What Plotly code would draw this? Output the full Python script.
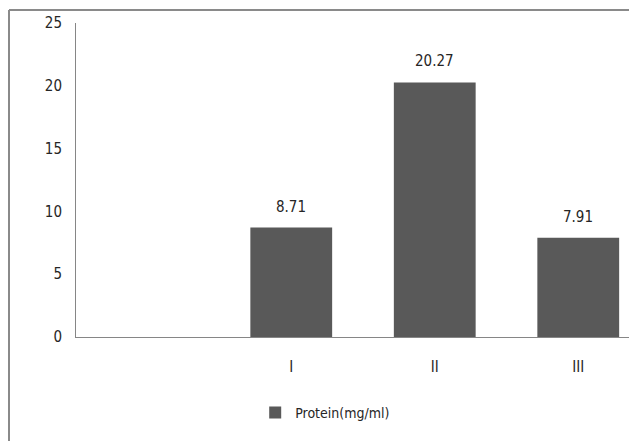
import plotly.graph_objects as go

categories = ["", "I", "II", "III"]
protein = [None, 8.71, 20.27, 7.91]
value_labels = ["", "8.71", "20.27", "7.91"]
y_ticks = [0, 5, 10, 15, 20, 25]

FONT = "DejaVu Sans Condensed, Liberation Sans Narrow, sans-serif"
positions = list(range(len(categories)))

fig = go.Figure()
fig.add_trace(go.Bar(
    x=positions,
    y=protein,
    name="Protein(mg/ml)",
    marker=dict(color="#595959", line=dict(width=0)),
    width=0.57,
    showlegend=True,
))

for xp, v, lab in zip(positions, protein, value_labels):
    if v is None:
        continue
    fig.add_annotation(
        x=xp, y=v, text=lab, showarrow=False,
        yanchor="middle", yshift=21,
        font=dict(family=FONT, size=15, color="#262626"),
    )

bx0 = (1 - 68) / 560
by1 = 1 + 13 / 314
border = dict(color="#8a8a8a", width=2)

fig.update_layout(
    width=629, height=433,
    margin=dict(l=68, r=1, t=15, b=104),
    paper_bgcolor="white", plot_bgcolor="white",
    font=dict(family=FONT, size=15, color="#262626"),
    xaxis=dict(
        range=[-0.5, -0.5 + 560 / 143.5],
        tickvals=positions, ticktext=categories,
        showgrid=False, zeroline=False,
        showline=True, linecolor="#868686", linewidth=1,
        ticks="", ticklabelstandoff=16,
        tickfont=dict(family=FONT, size=15, color="#262626"),
    ),
    yaxis=dict(
        range=[0, 25], tickvals=y_ticks,
        showgrid=False, zeroline=False,
        showline=True, linecolor="#868686", linewidth=1,
        ticks="", ticklabelstandoff=10,
        tickfont=dict(family=FONT, size=15, color="#262626"),
    ),
    legend=dict(
        orientation="h", x=0.445, xanchor="center", y=-0.242, yanchor="middle",
        font=dict(family=FONT, size=14, color="#262626"),
        itemwidth=30,
    ),
    shapes=[
        dict(type="line", xref="paper", yref="paper",
             x0=bx0, x1=1.1, y0=by1, y1=by1, line=border, layer="above"),
        dict(type="line", xref="paper", yref="paper",
             x0=bx0, x1=bx0, y0=-0.5, y1=by1, line=border, layer="above"),
    ],
)

fig.write_html("out.html")
